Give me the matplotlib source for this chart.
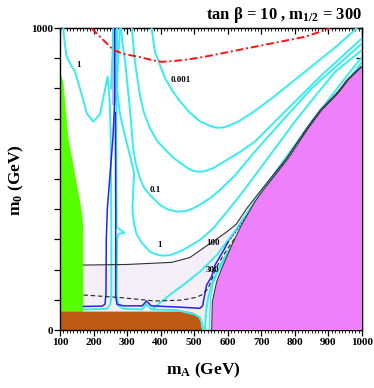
import matplotlib
matplotlib.use("Agg")
import matplotlib.pyplot as plt
from matplotlib.ticker import MultipleLocator, FixedLocator, FixedFormatter

plt.rcParams['font.family'] = ['Liberation Serif', 'DejaVu Serif']
plt.rcParams['font.weight'] = 'bold'
plt.rcParams['mathtext.fontset'] = 'custom'
plt.rcParams['mathtext.rm'] = 'Liberation Serif:bold'
plt.rcParams['mathtext.it'] = 'Liberation Serif:bold'
plt.rcParams['mathtext.bf'] = 'Liberation Serif:bold'

# ---------------- data (mA, m0) in GeV ----------------
green_mA = [100, 110, 125, 147, 160, 166.5, 169.5, 169.5, 100]
green_m0 = [852, 822, 635, 505, 425, 381, 340, 60, 60]

brown_mA = [100, 100, 482, 500, 512, 519, 523]
brown_m0 = [0, 61, 61, 56, 45, 28, 0]

bound_mA = [552, 553, 554, 567, 582, 612, 641, 681, 706, 741, 780, 840, 880, 929, 959, 1000]
bound_m0 = [0, 50, 94, 160, 204, 281, 348, 425, 464, 513, 568, 668, 728, 784, 828, 872]

line100_mA = [170, 300, 433, 487, 532, 560, 597, 625, 655, 690, 735, 775, 835, 875, 925, 955, 997]
line100_m0 = [215, 217, 224, 240, 275, 296, 325, 350, 400, 450, 513, 568, 668, 728, 784, 828, 872]

line300_mA = [170, 284, 383, 463, 505, 522, 540, 552, 562, 580, 600, 625]
line300_m0 = [116, 107, 96, 99, 108, 116, 135, 166, 199, 235, 270, 310]

red_mA = [194, 234, 259, 294, 333, 373, 403, 443, 482, 532, 631, 731, 830, 890, 905]
red_m0 = [999, 955, 927, 913, 905, 894, 888, 891, 896, 905, 927, 949, 971, 993, 1000]

strip_m0 = [746, 1000]
strip_left = [256, 256]
strip_right = [269, 269]

# cyan contours
c_top1_mA = [110, 114, 120, 132, 145, 162, 180, 199, 219, 242, 248, 251, 252, 253, 253, 250, 240, 170]
c_top1_m0 = [1000, 950, 905, 878, 855, 790, 717, 690, 714, 839, 760, 650, 500, 300, 120, 85, 70, 68]

c_fl_mA = [259, 256, 252]
c_fl_m0 = [1000, 900, 800]

c_fr_mA = [270, 269, 268, 268, 269, 292, 274, 270, 269, 274, 290, 345, 358, 372, 448, 500, 517, 524, 527]
c_fr_m0 = [1000, 850, 700, 450, 340, 322, 318, 300, 120, 80, 70, 68, 86, 68, 66, 52, 42, 20, 0]

c0_mA = [373, 383, 413, 435, 458, 485, 517, 547, 565, 582, 600, 631, 680, 731, 830, 929, 985]
c0_m0 = [1000, 921, 834, 792, 757, 722, 691, 676, 670, 670, 675, 690, 725, 767, 855, 944, 1000]

c1_mA = [314, 323, 338, 350, 368, 390, 418, 440, 467, 482, 497, 515, 532, 557, 600, 640, 681, 780, 880, 1000]
c1_m0 = [1000, 890, 779, 720, 669, 625, 592, 568, 547, 535, 527, 524, 526, 536, 565, 592, 624, 734, 844, 966]

c2_mA = [282, 286, 294, 309, 318, 326, 338, 350, 368, 398, 420, 448, 475, 497, 520, 547, 577, 620, 680,
         760, 850, 930, 1000]
c2_m0 = [1000, 950, 890, 724, 603, 550, 503, 472, 447, 414, 400, 392, 394, 403, 417, 436, 464, 510, 590,
         690, 800, 880, 949]

c3_mA = [279, 273, 270, 278, 292, 308, 321, 318, 316, 320, 328, 343, 368, 390, 408, 430, 467, 517, 557,
         600, 650, 720, 800, 850, 920, 1000]
c3_m0 = [1000, 900, 800, 720, 650, 580, 520, 460, 403, 355, 318, 290, 259, 249, 246, 248, 265, 298, 337,
         395, 465, 570, 690, 760, 855, 927]

c4_mA = [378, 420, 467, 517, 567, 620, 680, 750, 850, 940, 1000]
c4_m0 = [72, 110, 149, 193, 248, 325, 425, 535, 690, 820, 905]

c5_mA = [532, 535, 542, 555, 575, 600, 640, 680, 730, 800, 870, 940, 1000]
c5_m0 = [0, 60, 110, 160, 210, 258, 330, 398, 478, 588, 700, 800, 888]

c6_mA = [545, 548, 555, 570, 590, 600, 615, 630, 645, 665, 680, 700, 720, 740, 765, 790, 815,
         840, 870, 900, 930, 960, 985, 1000]
c6_m0 = [0, 100, 150, 190, 232, 246, 276, 300, 332, 365, 397, 430, 466, 494, 532, 570, 612,
         650, 702, 740, 782, 815, 847, 862]

# blue contours
b1_mA = [263, 263, 258, 249, 241, 238, 237, 234, 225, 170]
b1_m0 = [1000, 760, 640, 513, 400, 300, 120, 85, 79, 78]

b2_mA = [265, 266, 266, 270, 290, 345, 358, 372, 450, 517, 525, 530, 537, 552, 562, 575, 590, 600]
b2_m0 = [720, 400, 110, 85, 80, 80, 96, 80, 76, 72, 80, 110, 149, 177, 215, 240, 268, 290]

b3_mA = [600, 620, 645, 670, 700, 735, 770, 820, 870, 920, 960]
b3_m0 = [290, 318, 360, 400, 450, 505, 560, 640, 715, 780, 828]

# labels
lab_text = ["1", "0.001", "0.1", "1", "100", "300"]
lab_mA = [155, 461, 383, 398, 556, 553]
lab_m0 = [877, 828, 464, 281, 288, 199]

xticks = [100, 200, 300, 400, 500, 600, 700, 800, 900, 1000]
yticks = [0, 100, 200, 300, 400, 500, 600, 700, 800, 900, 1000]
ytick_labels = ["0", "", "", "", "", "", "", "", "", "", "1000"]

# ---------------- figure ----------------
fig = plt.figure(figsize=(3.74, 3.88), dpi=100)
ax = fig.add_axes([60/374, 58/388, 302/374, 302/388])
ax.set_xlim(100, 1000)
ax.set_ylim(0, 1000)

CYAN = "#36ecf0"
BLUE = "#2424e8"

# lavender region below the 100 line
lav_x = line100_mA + bound_mA[::-1] + [170]
lav_y = line100_m0 + bound_m0[::-1] + [0]
ax.fill(lav_x, lav_y, color="#f4eff6", lw=0, zorder=0)

# purple strip
ax.fill_betweenx(strip_m0, strip_left, strip_right, color="#c4b8fa", lw=0, zorder=1)

ax.fill(green_mA, green_m0, color="#58ff00", lw=0, zorder=2)
ax.fill(brown_mA, brown_m0, color="#bf5a12", lw=0, zorder=2)
ax.fill(bound_mA + [1000, 1000], bound_m0 + [872, 0], color="#ee80fb", lw=0, zorder=5)

cyan_lines = [(c_top1_mA, c_top1_m0), (c_fl_mA, c_fl_m0), (c_fr_mA, c_fr_m0),
              (c0_mA, c0_m0), (c1_mA, c1_m0), (c2_mA, c2_m0), (c3_mA, c3_m0),
              (c4_mA, c4_m0), (c5_mA, c5_m0)]
for xs, ys in cyan_lines:
    ax.plot(xs, ys, color=CYAN, lw=1.4, zorder=3, solid_joinstyle="round")
ax.plot(c6_mA, c6_m0, color=CYAN, lw=0.9, zorder=3)

ax.plot(b1_mA, b1_m0, color=BLUE, lw=1.1, zorder=4)
ax.plot(b2_mA, b2_m0, color=BLUE, lw=1.1, zorder=4)
ax.plot(b3_mA, b3_m0, color=BLUE, lw=0.6, ls=(0, (3, 1.5)), zorder=4)

ax.plot(line100_mA, line100_m0, color="#303030", lw=0.8, zorder=4)
ax.plot(bound_mA, bound_m0, color="#303030", lw=0.7, zorder=6)
ax.plot(line300_mA, line300_m0, color="#202020", lw=0.8, ls=(0, (4, 2.5)), zorder=4)

ax.plot(red_mA, red_m0, color="#ff1010", lw=1.4, ls=(0, (4, 1.5, 1, 1.5)), zorder=4)

for t, x, y in zip(lab_text, lab_mA, lab_m0):
    ax.text(x, y, t, fontsize=6.5, fontweight="bold", ha="center", va="center", zorder=7)

# ticks
ax.xaxis.set_major_locator(FixedLocator(xticks))
ax.xaxis.set_minor_locator(MultipleLocator(10))
ax.yaxis.set_major_locator(FixedLocator(yticks))
ax.yaxis.set_major_formatter(FixedFormatter(ytick_labels))
ax.tick_params(axis="x", which="major", direction="out", length=4, width=0.9, labelsize=8, pad=2,
               top=False)
ax.tick_params(axis="x", which="minor", direction="out", length=2, width=0.6, top=False)
ax.tick_params(axis="y", which="major", direction="out", length=4, width=0.9, labelsize=8, pad=1)
sec = ax.secondary_xaxis("top")
sec.xaxis.set_major_locator(FixedLocator(xticks))
sec.xaxis.set_minor_locator(MultipleLocator(10))
sec.tick_params(which="major", direction="in", length=4, width=0.9, labeltop=False)
sec.tick_params(which="minor", direction="in", length=2, width=0.6)
sec.set_xticklabels([])
secy = ax.secondary_yaxis("right")
secy.yaxis.set_major_locator(FixedLocator(yticks))
secy.tick_params(direction="in", length=4, width=0.9, labelright=False)
secy.set_yticklabels([])
for s in ax.spines.values():
    s.set_linewidth(1.0)
for lab in ax.get_xticklabels() + ax.get_yticklabels():
    lab.set_fontweight("bold")

fig.text(0.545, 0.045, "m$_A$ (GeV)", fontsize=12.5, fontweight="bold", ha="center", va="center")
fig.text(0.045, 0.536, "m$_0$ (GeV)", fontsize=12.5, fontweight="bold", ha="center", va="center",
         rotation=90)
fig.text(0.968, 0.962, r"tan β = 10 , m$_{1/2}$ = 300", fontsize=12, fontweight="bold",
         ha="right", va="center")

fig.savefig("out.png", dpi=100)
